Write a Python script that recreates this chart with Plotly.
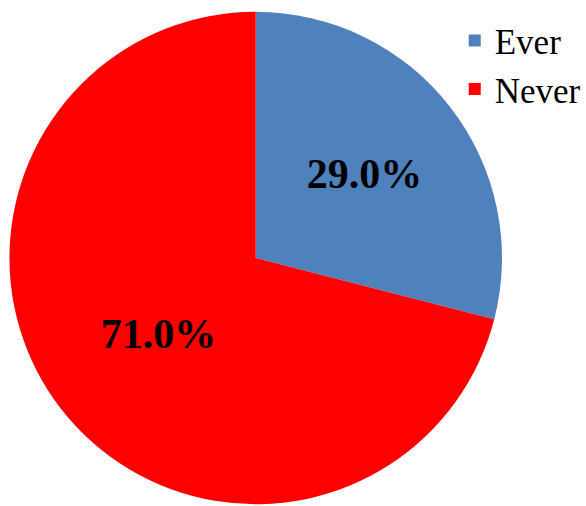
import plotly.graph_objects as go

labels = ["Ever", "Never"]
values = [29.0, 71.0]
colors = ["#4F81BD", "#FF0000"]

fig = go.Figure(go.Pie(
    labels=labels,
    values=values,
    sort=False,
    direction="clockwise",
    rotation=0,
    marker=dict(colors=colors, line=dict(width=0)),
    texttemplate="%{percent:.1%}",
    textposition="inside",
    insidetextorientation="horizontal",
    textfont=dict(family="Liberation Serif", size=42, color="black", weight="bold"),
    domain=dict(x=[0.0162, 0.861], y=[0.0, 0.980]),
    hoverinfo="label+percent",
))

fig.update_layout(
    width=586, height=506,
    margin=dict(l=0, r=0, t=0, b=0),
    paper_bgcolor="white",
    plot_bgcolor="white",
    showlegend=True,
    legend=dict(
        x=0.780, y=0.978, xanchor="left", yanchor="top",
        font=dict(family="Liberation Serif", size=35, color="black"),
        bgcolor="rgba(0,0,0,0)",
    ),
)

fig.write_html(
    "out.html",
    config={"displayModeBar": False},
    post_script="document.body.style.margin='0';document.body.style.overflow='hidden';",
)
